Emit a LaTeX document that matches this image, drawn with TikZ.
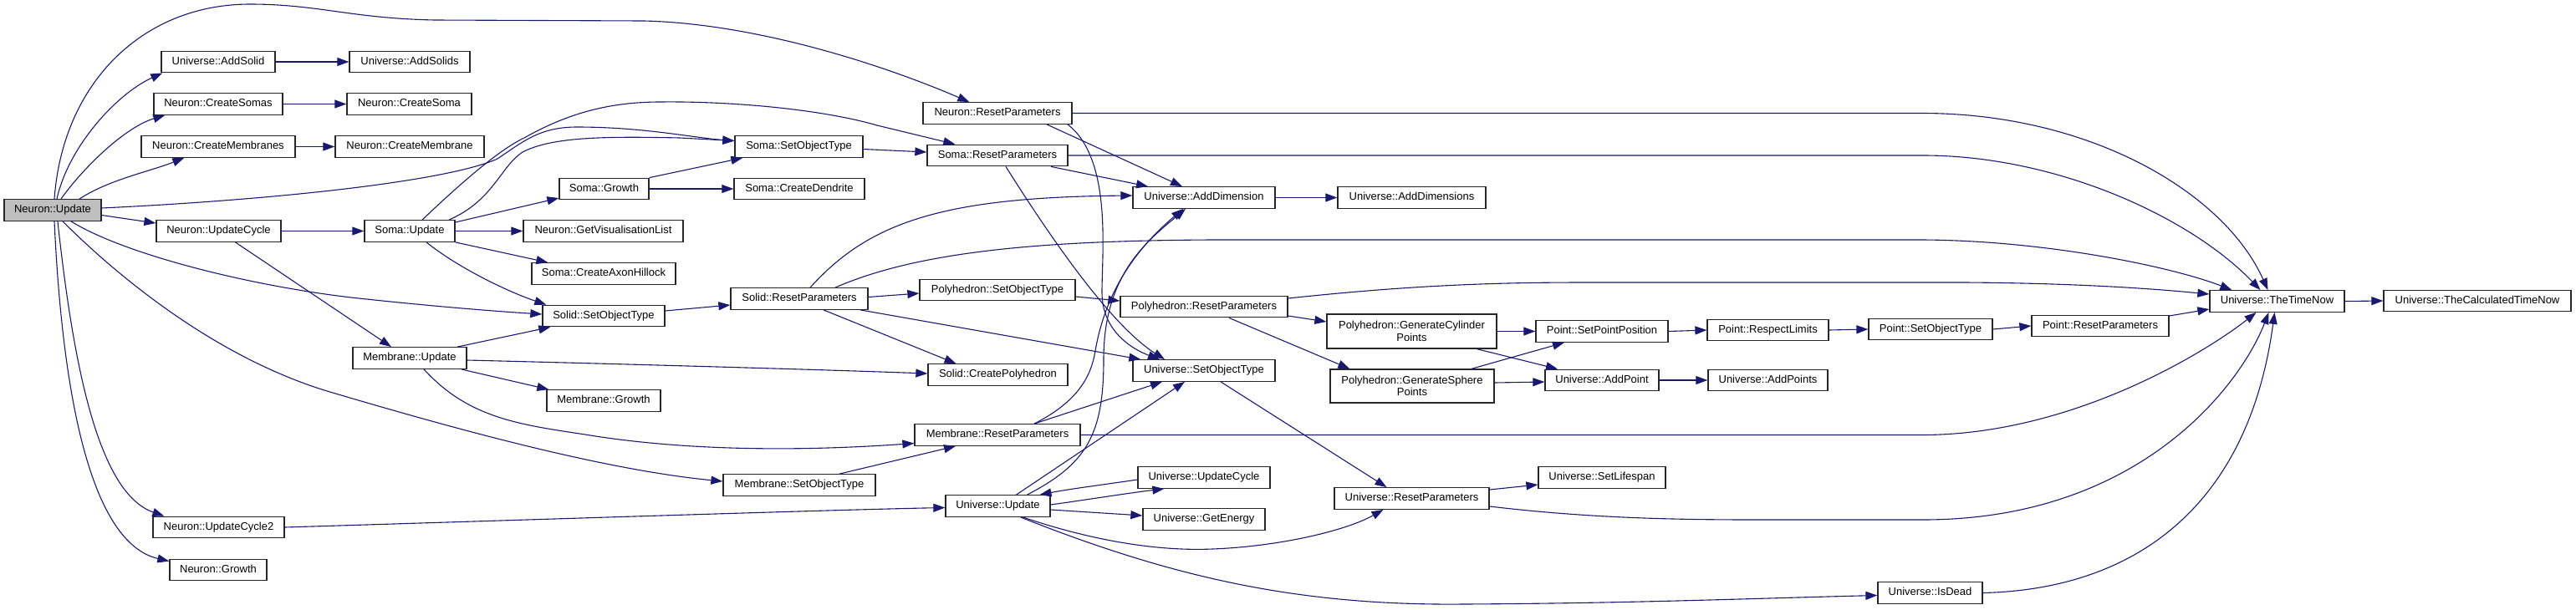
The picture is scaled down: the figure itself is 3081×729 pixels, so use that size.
\documentclass[tikz,border=0pt]{standalone}
\usepackage{fontspec}
\setmainfont{Liberation Sans}
\usetikzlibrary{arrows.meta}
\definecolor{edgeblue}{HTML}{191970}
\definecolor{rootgray}{HTML}{BFBFBF}
\tikzset{
  box/.style={draw=black!85, line width=1.3pt, fill=white, minimum height=25.5pt, inner sep=0pt,
    text height=9.5pt, text depth=2.7pt, font=\fontsize{13}{14.5}\selectfont},
  twoline/.style={align=center, text height=, text depth=},
  edge/.style={draw=edgeblue, line width=1.1pt, -{Triangle[length=14pt,width=10pt]}},
}
\begin{document}
\begin{tikzpicture}[x=1pt,y=-1pt]
\useasboundingbox (0,0) rectangle (3081,729);
% nodes
\node[box, fill=rootgray, minimum width=116pt] (nu) at (63,251.5) {Neuron::Update};
\node[box, minimum width=136pt] (addsolid) at (261,74) {Universe::AddSolid};
\node[box, minimum width=144pt] (addsolids) at (490,74) {Universe::AddSolids};
\node[box, minimum width=154pt] (createsomas) at (261,124.5) {Neuron::CreateSomas};
\node[box, minimum width=149pt] (createsoma) at (489.5,124.5) {Neuron::CreateSoma};
\node[box, minimum width=184pt] (createmembranes) at (261,175.5) {Neuron::CreateMembranes};
\node[box, minimum width=178pt] (createmembrane) at (490,175.5) {Neuron::CreateMembrane};
\node[box, minimum width=149pt] (updatecycle) at (261.5,276.5) {Neuron::UpdateCycle};
\node[box, minimum width=108pt] (somaupdate) at (490,276.5) {Soma::Update};
\node[box, minimum width=107pt] (somagrowth) at (722.5,226) {Soma::Growth};
\node[box, minimum width=191pt] (getvis) at (721.5,276.5) {Neuron::GetVisualisationList};
\node[box, minimum width=172pt] (axonhillock) at (722,327.5) {Soma::CreateAxonHillock};
\node[box, minimum width=146pt] (solidsot) at (722,378) {Solid::SetObjectType};
\node[box, minimum width=136pt] (membraneupdate) at (490,428.5) {Membrane::Update};
\node[box, minimum width=136pt] (membranegrowth) at (722,479.5) {Membrane::Growth};
\node[box, minimum width=157pt] (updatecycle2) at (261.5,631) {Neuron::UpdateCycle2};
\node[box, minimum width=116pt] (neurongrowth) at (261,682) {Neuron::Growth};
\node[box, minimum width=178pt] (neuronrp) at (1193,135.5) {Neuron::ResetParameters};
\node[box, minimum width=153pt] (somasot) at (955.5,175.5) {Soma::SetObjectType};
\node[box, minimum width=168pt] (somarp) at (1193,186) {Soma::ResetParameters};
\node[box, minimum width=156pt] (createdendrite) at (956,226) {Soma::CreateDendrite};
\node[box, minimum width=170pt] (adddimension) at (1440,236.5) {Universe::AddDimension};
\node[box, minimum width=164pt] (solidrp) at (956,357.5) {Solid::ResetParameters};
\node[box, minimum width=186pt] (polysot) at (1193,347) {Polyhedron::SetObjectType};
\node[box, minimum width=200pt] (polyrp) at (1440,367) {Polyhedron::ResetParameters};
\node[box, minimum width=167pt] (createpoly) at (1193.5,448.5) {Solid::CreatePolyhedron};
\node[box, minimum width=170pt] (usot) at (1440,443.5) {Universe::SetObjectType};
\node[box, minimum width=198pt] (membranerp) at (1193,520.5) {Membrane::ResetParameters};
\node[box, minimum width=182pt] (membranesot) at (956,580.5) {Membrane::SetObjectType};
\node[box, minimum width=158pt] (uupdatecycle) at (1440,571.5) {Universe::UpdateCycle};
\node[box, minimum width=125pt] (uupdate) at (1193.5,605.5) {Universe::Update};
\node[box, minimum width=146pt] (getenergy) at (1440,621.5) {Universe::GetEnergy};
\node[box, minimum width=177pt] (adddimensions) at (1688.5,236.5) {Universe::AddDimensions};
\node[box, twoline, minimum width=203pt, minimum height=41pt] (gencyl) at (1688.5,396.5) {Polyhedron::GenerateCylinder\\Points};
\node[box, twoline, minimum width=196pt, minimum height=40pt] (gensph) at (1689,462) {Polyhedron::GenerateSphere\\Points};
\node[box, minimum width=158pt] (setpointpos) at (1916,396.5) {Point::SetPointPosition};
\node[box, minimum width=145pt] (respectlimits) at (2114.5,395) {Point::RespectLimits};
\node[box, minimum width=148pt] (pointsot) at (2309,394) {Point::SetObjectType};
\node[box, minimum width=136pt] (addpoint) at (1916,455) {Universe::AddPoint};
\node[box, minimum width=143pt] (addpoints) at (2114.5,455) {Universe::AddPoints};
\node[box, minimum width=152pt] (setlifespan) at (1916,571.5) {Universe::SetLifespan};
\node[box, minimum width=185pt] (urp) at (1688.5,596.5) {Universe::ResetParameters};
\node[box, minimum width=125pt] (isdead) at (2308.5,709.5) {Universe::IsDead};
\node[box, minimum width=161pt] (thetimenow) at (2723.5,360.5) {Universe::TheTimeNow};
\node[box, minimum width=224pt] (calctimenow) at (2963,360) {Universe::TheCalculatedTimeNow};
\node[box, minimum width=164pt] (pointrp) at (2512,390) {Point::ResetParameters};
% edges from Neuron::Update
\draw[edge] ([xshift=2pt]nu.north) .. controls (75,100) and (170,5) .. (299,5) .. controls (380,5) and (420,22) .. (520,24) -- (770,25) .. controls (900,28) and (1050,75) .. ([xshift=56pt]neuronrp.north west);
\draw[edge] ([xshift=5pt]nu.north) .. controls (82,175) and (140,112) .. ([xshift=2pt]addsolid.south west);
\draw[edge] ([xshift=10pt]nu.north) .. controls (100,200) and (150,152) .. ([xshift=14pt]createsomas.south west);
\draw[edge] ([xshift=32pt]nu.north) .. controls (130,215) and (180,205) .. ([xshift=52pt]createmembranes.south west);
\draw[edge] ([yshift=2.5pt]nu.east) .. controls (350,238) and (540,215) .. (595,190) .. controls (625,170) and (645,152) .. (690,152) .. controls (770,152) and (830,165) .. ([yshift=7pt]somasot.west);
\draw[edge] ([yshift=-6pt]nu.east) -- ([yshift=9.5pt]updatecycle.west);
\draw[edge] ([xshift=22pt]nu.south) .. controls (150,305) and (300,342) .. (420,356) .. controls (520,367) and (600,373) .. ([yshift=2pt]solidsot.west);
\draw[edge] ([xshift=12pt]nu.south) .. controls (140,330) and (260,430) .. (398,470) .. controls (540,512) and (720,562) .. ([yshift=4.5pt]membranesot.west);
\draw[edge] ([xshift=6pt]nu.south) .. controls (88,440) and (118,590) .. ([xshift=14pt]updatecycle2.north west);
\draw[edge] ([xshift=2pt]nu.south) .. controls (75,480) and (110,650) .. ([yshift=-3pt]neurongrowth.north west);
% simple chains
\draw[edge] (addsolid.east) -- (addsolids.west);
\draw[edge] (createsomas.east) -- (createsoma.west);
\draw[edge] (createmembranes.east) -- (createmembrane.west);
\draw[edge] (updatecycle.east) -- (somaupdate.west);
\draw[edge] ([xshift=20pt]updatecycle.south) -- ([xshift=-22pt]membraneupdate.north);
\draw[edge] (updatecycle2.east) .. controls (700,620) and (1000,610) .. ([yshift=-2pt]uupdate.west);
% Soma::Update
\draw[edge] ([xshift=15pt]somaupdate.north) .. controls (545,225) and (595,180) .. (627,165) .. controls (680,135) and (730,122) .. (790,122) .. controls (870,121) and (980,130) .. (1049,150) -- ([xshift=34pt]somarp.north west);
\draw[edge] ([xshift=47pt]somaupdate.north) .. controls (590,240) and (598,200) .. (625,182) .. controls (660,164) and (720,163) .. (813,165) -- ([yshift=7pt]somasot.west);
\draw[edge] ([yshift=10.5pt]somaupdate.east) -- ([yshift=-11pt]somagrowth.west);
\draw[edge] (somaupdate.east) -- (getvis.west);
\draw[edge] (somaupdate.south east) -- ([xshift=20pt]axonhillock.north west);
\draw[edge] ([xshift=20pt]somaupdate.south) .. controls (550,322) and (610,350) .. ([xshift=5pt]solidsot.north west);
\draw[edge] (somagrowth.north east) -- ([xshift=10pt]somasot.south west);
\draw[edge] (somagrowth.east) -- (createdendrite.west);
\draw[edge] ([yshift=-3pt]somasot.east) -- ([yshift=4pt]somarp.west);
% Membrane::Update
\draw[edge] ([xshift=57pt]membraneupdate.north) -- ([xshift=10pt]solidsot.south west);
\draw[edge] ([yshift=-2.5pt]membraneupdate.east) .. controls (800,437) and (1000,443) .. ([yshift=1.5pt]createpoly.west);
\draw[edge] ([xshift=-7pt]membraneupdate.south east) -- ([xshift=3pt]membranegrowth.north west);
\draw[edge] ([xshift=17pt]membraneupdate.south) .. controls (560,500) and (620,508) .. (700,520) .. controls (820,540) and (960,540) .. ([yshift=-10pt]membranerp.west);
\draw[edge] ([xshift=48pt]membranesot.north) -- ([xshift=-50pt]membranerp.south);
% Solid
\draw[edge] ([yshift=6pt]solidsot.east) -- ([yshift=-7.5pt]solidrp.west);
\draw[edge] ([xshift=13pt]solidrp.north) .. controls (1040,265) and (1130,236) .. ([yshift=2.5pt]adddimension.west);
\draw[edge] ([xshift=43pt]solidrp.north) .. controls (1100,300) and (1250,288) .. (1450,287) -- (2300,287) .. controls (2450,288) and (2600,320) .. ([xshift=27pt]thetimenow.north west);
\draw[edge] ([yshift=2pt]solidrp.east) -- ([yshift=-4pt]polysot.west);
\draw[edge] ([xshift=29pt]solidrp.south) -- ([xshift=-50pt]createpoly.north);
\draw[edge] ([xshift=73pt]solidrp.south) -- ([xshift=10pt]usot.north west);
% Polyhedron
\draw[edge] ([yshift=-8pt]polysot.east) -- ([yshift=7pt]polyrp.west);
\draw[edge] ([yshift=10pt]polyrp.east) .. controls (1700,340) and (1800,338) .. (1900,338) -- (2350,338) .. controls (2500,339) and (2590,347) .. ([yshift=8.5pt]thetimenow.west);
\draw[edge] ([yshift=-11pt]polyrp.east) -- ([yshift=11.5pt]gencyl.west);
\draw[edge] ([xshift=30pt]polyrp.south) -- ([xshift=24pt]gensph.north west);
% Reset parameters
\draw[edge] (neuronrp.east) -- (2300,135.5) .. controls (2500,136) and (2660,230) .. ([xshift=-11pt]thetimenow.north);
\draw[edge] (somarp.east) -- (2300,186) .. controls (2460,186) and (2620,260) .. ([xshift=-20pt]thetimenow.north);
\draw[edge] ([xshift=59pt]neuronrp.south) -- ([xshift=-26pt]adddimension.north);
\draw[edge] ([xshift=84pt]neuronrp.south) .. controls (1330,190) and (1318,300) .. (1318,350) .. controls (1318,400) and (1360,420) .. ([xshift=-53pt]usot.north);
\draw[edge] ([xshift=64pt]somarp.south) -- ([xshift=-67pt]adddimension.north);
\draw[edge] ([xshift=10pt]somarp.south) .. controls (1260,290) and (1330,390) .. ([xshift=-47pt]usot.north);
\draw[edge] (adddimension.east) -- (adddimensions.west);
\draw[edge] ([xshift=44pt]membranerp.north) .. controls (1290,480) and (1305,450) .. (1310,420) .. controls (1325,330) and (1380,280) .. ([xshift=-25pt]adddimension.south);
\draw[edge] ([xshift=35pt]uupdate.north) .. controls (1300,555) and (1320,520) .. (1320,430) .. controls (1320,330) and (1370,290) .. ([xshift=-22pt]adddimension.south);
\draw[edge] ([xshift=44pt]membranerp.north) -- ([xshift=-50pt]usot.south);
\draw[edge] ([xshift=22pt]uupdate.north) -- ([xshift=-23pt]usot.south);
\draw[edge] ([xshift=20pt]usot.south) -- ([xshift=-30pt]urp.north);
\draw[edge] (membranerp.east) -- (2300,520.5) .. controls (2480,520) and (2640,420) .. ([xshift=-25pt]thetimenow.south);
% Universe::Update
\draw[edge] ([yshift=1.5pt]uupdate.east) .. controls (1300,598) and (1350,590) .. ([xshift=32pt]uupdatecycle.south west);
\draw[edge] ([yshift=-2.5pt]uupdatecycle.west) .. controls (1320,580) and (1280,585) .. ([xshift=50pt]uupdate.north);
\draw[edge] ([yshift=-4.5pt]uupdate.east) -- ([yshift=4.5pt]getenergy.west);
\draw[edge] ([xshift=30pt]uupdate.south) .. controls (1300,645) and (1380,660) .. (1450,657) .. controls (1530,654) and (1610,635) .. ([xshift=-34pt]urp.south);
\draw[edge] ([xshift=27pt]uupdate.south) .. controls (1400,690) and (1550,725) .. (1750,723) .. controls (1950,722) and (2100,716) .. ([yshift=-3pt]isdead.west);
% Universe::ResetParameters, IsDead
\draw[edge] ([yshift=10.5pt]urp.east) -- ([yshift=-8.5pt]setlifespan.west);
\draw[edge] ([yshift=-9.5pt]urp.east) .. controls (1900,620) and (2000,622) .. (2100,622) -- (2300,622) .. controls (2560,622) and (2680,460) .. ([xshift=-10pt]thetimenow.south);
\draw[edge] (isdead.east) .. controls (2560,705) and (2690,600) .. ([xshift=-3pt]thetimenow.south);
% points
\draw[edge] (gencyl.east) -- (setpointpos.west);
\draw[edge] ([xshift=78pt]gencyl.south) -- ([xshift=-53pt]addpoint.north);
\draw[edge] ([xshift=71pt]gensph.north) -- ([xshift=-45pt]setpointpos.south);
\draw[edge] ([yshift=4pt]gensph.east) -- ([yshift=-2pt]addpoint.west);
\draw[edge] (setpointpos.east) -- (respectlimits.west);
\draw[edge] (respectlimits.east) -- (pointsot.west);
\draw[edge] (pointsot.east) -- (pointrp.west);
\draw[edge] ([yshift=12pt]pointrp.east) -- ([yshift=-9.5pt]thetimenow.west);
\draw[edge] (addpoint.east) -- (addpoints.west);
\draw[edge] (thetimenow.east) -- (calctimenow.west);
\end{tikzpicture}
\end{document}
